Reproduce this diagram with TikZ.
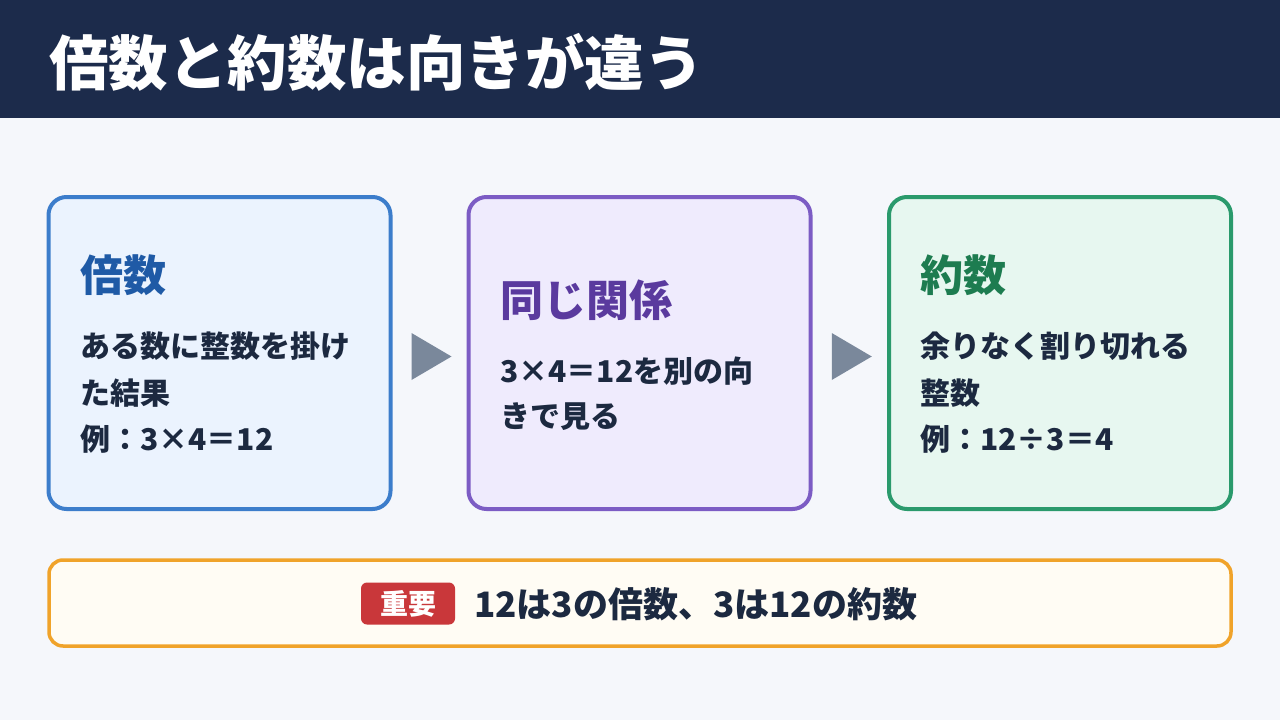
\documentclass[tikz,border=0pt]{standalone}
\usepackage{fontspec}
\setmainfont{Noto Sans CJK JP}
\usetikzlibrary{calc}

\definecolor{navy}{HTML}{1C2B4B}
\definecolor{paper}{HTML}{F5F7FB}
\definecolor{ink}{HTML}{1C2940}
\definecolor{blueline}{HTML}{3C7DCB}
\definecolor{bluefill}{HTML}{EBF3FE}
\definecolor{bluetext}{HTML}{1F5AA6}
\definecolor{purpleline}{HTML}{7C5CC4}
\definecolor{purplefill}{HTML}{EFEBFD}
\definecolor{purpletext}{HTML}{5A3A9E}
\definecolor{greenline}{HTML}{2A9A6C}
\definecolor{greenfill}{HTML}{E7F7F0}
\definecolor{greentext}{HTML}{1D7C50}
\definecolor{arrowgray}{HTML}{7A889B}
\definecolor{orangeline}{HTML}{F0A32A}
\definecolor{creamfill}{HTML}{FFFCF4}
\definecolor{badgered}{HTML}{C9373A}

\tikzset{
  card/.style={rounded corners=18pt, line width=4pt, minimum width=342pt, minimum height=312pt, inner sep=0pt},
  cardhead/.style={anchor=base west, inner sep=0pt, font=\fontsize{43}{50}\selectfont\bfseries},
  cardline/.style={anchor=base west, inner sep=0pt, text=ink, font=\fontsize{30}{36}\selectfont\bfseries},
}

\begin{document}
\begin{tikzpicture}[x=1pt, y=-1pt]
\useasboundingbox (0,0) rectangle (1280,720);
\fill[paper] (0,0) rectangle (1280,720);

% header bar
\fill[navy] (0,0) rectangle (1280,118);
\node[anchor=base west, inner sep=0pt, text=white, font=\fontsize{59.5}{66}\selectfont\bfseries] (title) at (49,85) {倍数と約数は向きが違う};

% three cards
\node[card, draw=blueline, fill=bluefill] (multiple) at (219.5,353) {};
\node[card, draw=purpleline, fill=purplefill] (same) at (639.5,353) {};
\node[card, draw=greenline, fill=greenfill] (divisor) at (1060,353) {};

\node[cardhead, text=bluetext] (multipleHead) at (80,291) {倍数};
\node[cardline] (multipleA) at (80,357) {ある数に整数を掛け};
\node[cardline] (multipleB) at (80,404) {た結果};
\node[cardline] (multipleC) at (80,450) {例：3×4＝12};

\node[cardhead, text=purpletext] (sameHead) at (500,316) {同じ関係};
\node[cardline] (sameA) at (500,382) {3×4＝12を別の向};
\node[cardline] (sameB) at (500,427) {きで見る};

\node[cardhead, text=greentext] (divisorHead) at (920,291) {約数};
\node[cardline] (divisorA) at (920,357) {余りなく割り切れる};
\node[cardline] (divisorB) at (920,404) {整数};
\node[cardline] (divisorC) at (920,450) {例：12÷3＝4};

% arrows between cards
\foreach \from/\to in {multiple/same, same/divisor}{
  \coordinate (mid) at ($(\from.east)!0.5!(\to.west)+(2,3.5)$);
  \fill[arrowgray] ($(mid)+(-20,-23.5)$) -- ($(mid)+(20,0)$) -- ($(mid)+(-20,23.5)$) -- cycle;
}

% key point
\node[draw=orangeline, fill=creamfill, line width=3.5pt, rounded corners=14pt, minimum width=1182pt, minimum height=86pt, inner sep=0pt] (keyBox) at (640,603) {};
\node[fill=badgered, rounded corners=6pt, minimum width=94pt, minimum height=42pt, inner sep=0pt, text=white, font=\fontsize{28}{32}\selectfont\bfseries] (badge) at (408,603.5) {重要};
\node[anchor=base west, inner sep=0pt, text=ink, font=\fontsize{35}{40}\selectfont\bfseries] (keyText) at (474,617) {12は3の倍数、3は12の約数};
\end{tikzpicture}
\end{document}
